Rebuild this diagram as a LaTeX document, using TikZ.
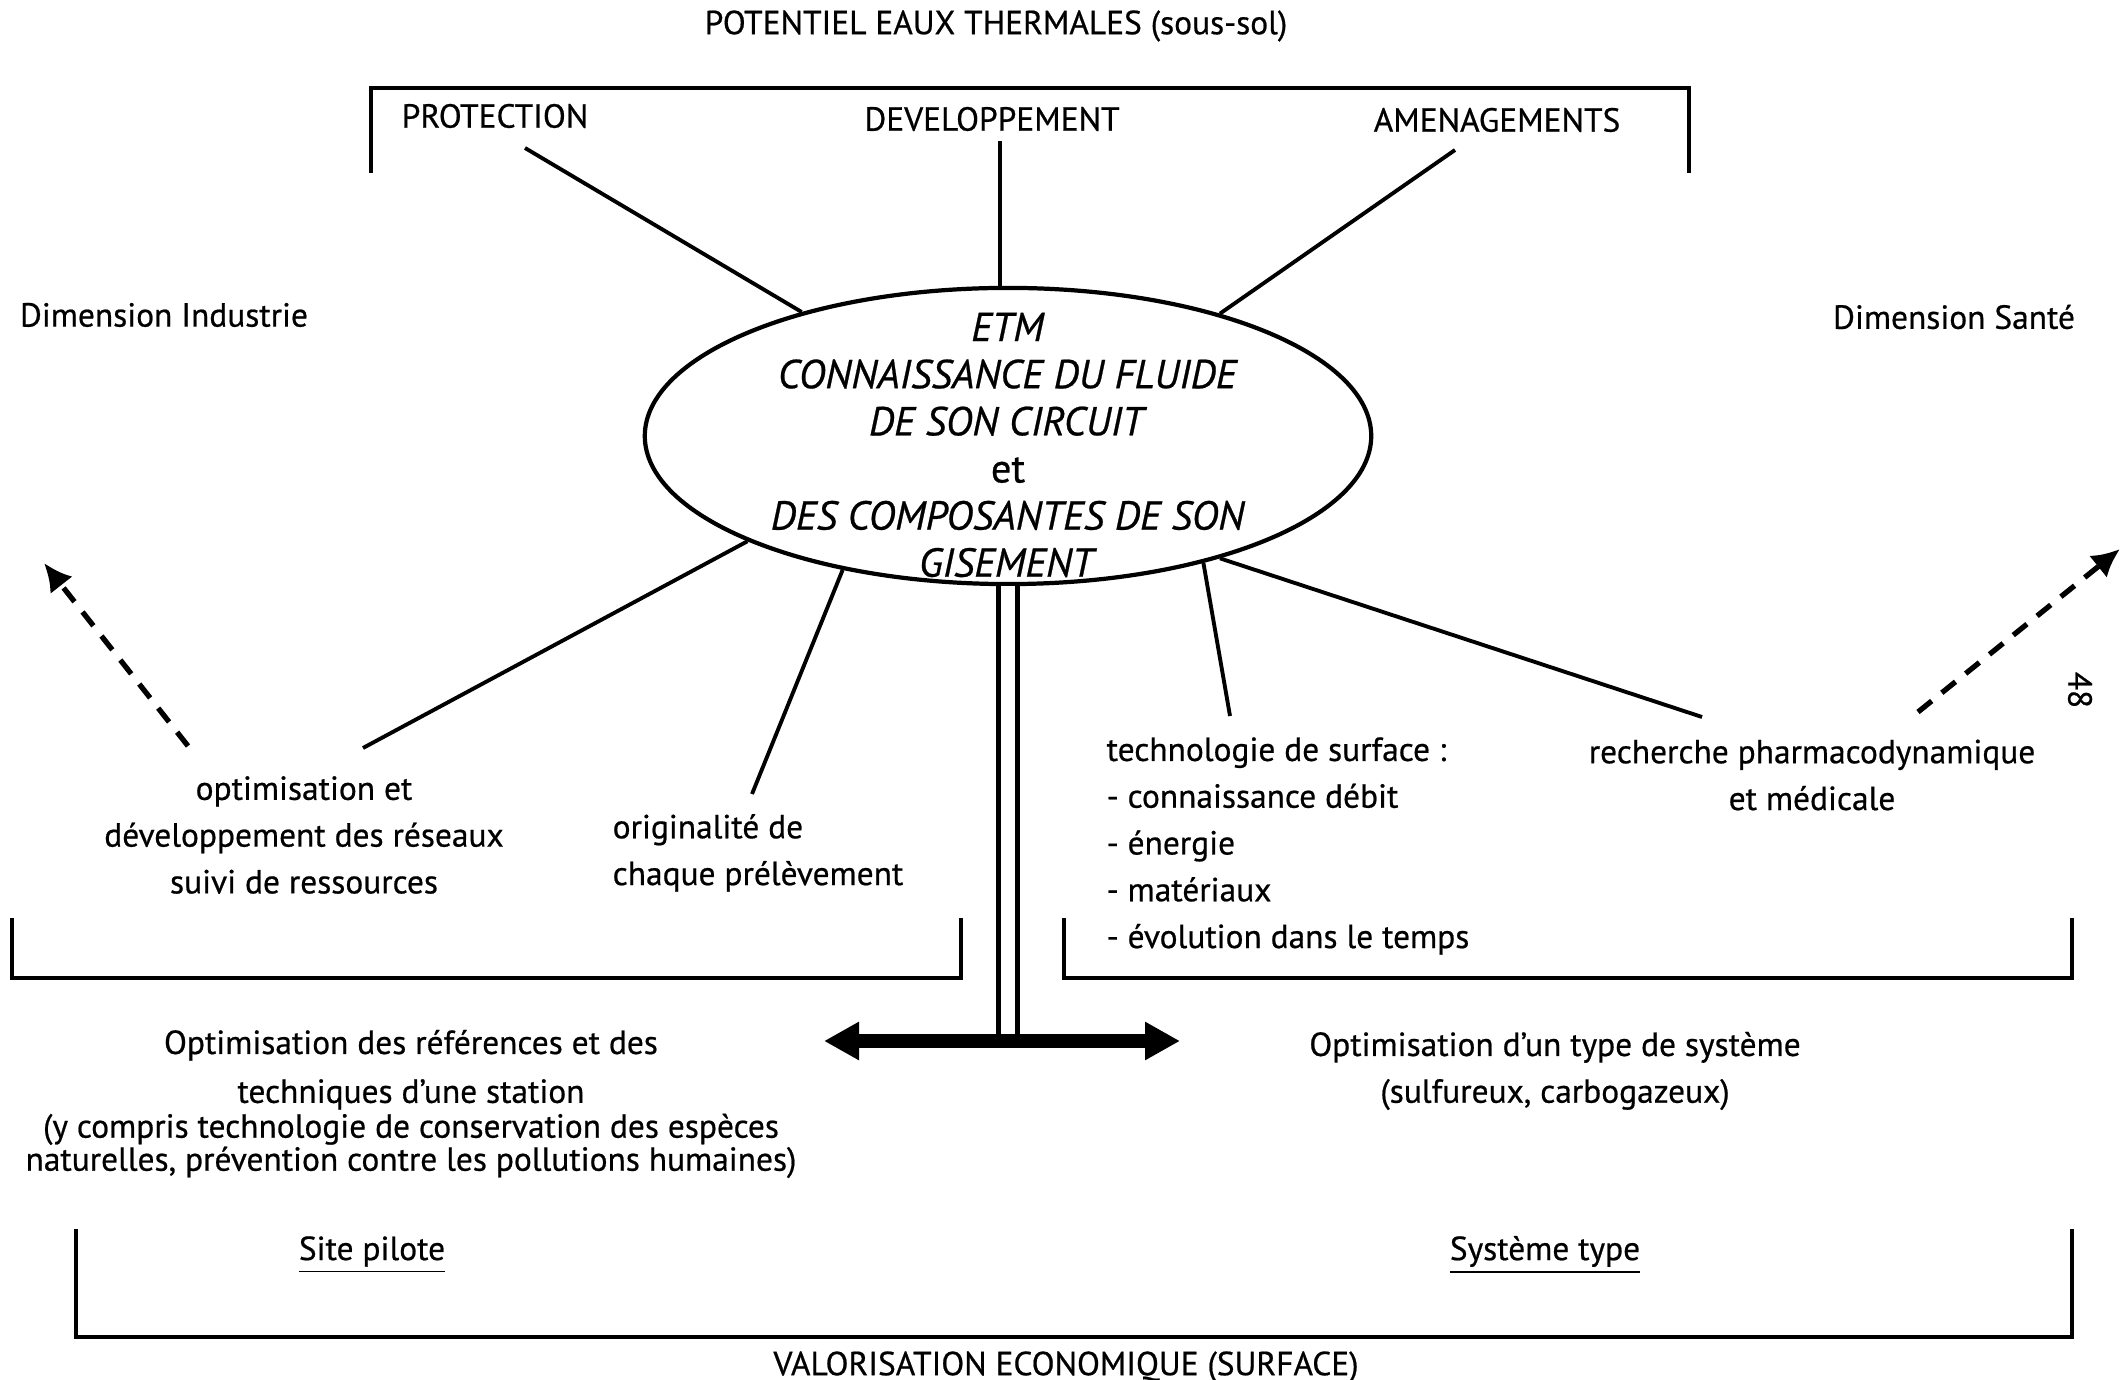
\documentclass[tikz,border=0pt]{standalone}
\usepackage{fontspec}
\setmainfont{PT Sans}[FakeBold=0.6]
\usetikzlibrary{arrows.meta,positioning,shapes.geometric}

\begin{document}
\begin{tikzpicture}[x=0.01cm,y=-0.01cm,
	txt/.style={font=\fontsize{9.5}{13.3}\selectfont,inner sep=0pt},
	bracket/.style={line width=1.1pt},
	spoke/.style={line width=1.1pt},
	dasharrow/.style={line width=1.5pt,dash pattern=on 5pt off 3.7pt,-{Latex[length=2.8mm,width=2.8mm]}}]
	\useasboundingbox (0,0) rectangle (2122,1380);

	% titles and labels
	\begin{scope}[every node/.style={txt}]
		\node (title) at (996,26) {POTENTIEL EAUX THERMALES (sous-sol)};
		\node (prot) at (495,116) {PROTECTION};
		\node (dev) at (992,119) {DEVELOPPEMENT};
		\node (amen) at (1497,120) {AMENAGEMENTS};
		\node (indus) at (164,315) {Dimension Industrie};
		\node (sante) at (1954,317) {Dimension Sant\'e};
		\node[rotate=-90] (page) at (2080,690) {48};

		\node[align=center] (reseaux) at (304,835) {optimisation et\\ d\'eveloppement des r\'eseaux\\ suivi de ressources};
		\node[align=left,anchor=west] (orig) at (612,853) {originalit\'e de\\ chaque pr\'el\`evement};
		\node[align=left,anchor=west] (techno) at (1106,846) {technologie de surface :\\ - connaissance d\'ebit\\ - \'energie\\ - mat\'eriaux\\ - \'evolution dans le temps};
		\node[align=center] (pharma) at (1812,775) {recherche pharmacodynamique\\ et m\'edicale};

		\node[align=center] (station) at (411,1104) {Optimisation des r\'ef\'erences et des\\[0.6pt] techniques d'une station\\[-3.4pt] (y compris technologie de conservation des esp\`eces\\[-3.9pt] naturelles, pr\'evention contre les pollutions humaines)};
		\node[align=center] (systeme) at (1555,1071) {Optimisation d'un type de syst\`eme\\ (sulfureux, carbogazeux)};

		\node (pilote) at (372,1255) {\underline{Site pilote}};
		\node (type) at (1545,1255) {\underline{Syst\`eme type}};
		\node (valo) at (1066,1367) {VALORISATION ECONOMIQUE (SURFACE)};
	\end{scope}

	% central ellipse
	\node[ellipse,draw,line width=1.2pt,minimum width=7.26cm,minimum height=2.96cm,inner sep=0pt] (etm) at (1008,436) {};
	\node[txt,font=\fontsize{11.5}{13.4}\selectfont,align=center] (etmtxt) at (1008,445) {\textit{ETM}\\ \textit{CONNAISSANCE DU FLUIDE}\\ \textit{DE SON CIRCUIT}\\ et\\ \textit{DES COMPOSANTES DE SON}\\ \textit{GISEMENT}};

	% brackets
	\draw[bracket] (371,173) -- (371,88) -- (1689,88) -- (1689,173);
	\draw[bracket] (12,918) -- (12,978) -- (961,978) -- (961,918);
	\draw[bracket] (1064,918) -- (1064,978) -- (2072,978) -- (2072,918);
	\draw[bracket] (76,1229) -- (76,1337) -- (2072,1337) -- (2072,1229);

	% spokes
	\coordinate (p1) at (525,148);
	\coordinate (p2) at (1000,141);
	\coordinate (p3) at (1455,150);
	\coordinate (q1) at (363,748);
	\coordinate (q2) at (752,794);
	\coordinate (q3) at (1230,716);
	\coordinate (q4) at (1702,717);

	\draw[spoke] (p1) -- (etm.149);
	\draw[spoke] (p2) -- (p2 |- etm.north);
	\draw[spoke] (p3) -- (etm.30);
	\draw[spoke] (q1) -- (etm.202);
	\draw[spoke] (q2) -- (etm.219);
	\draw[spoke] (q3) -- (etm.327);
	\draw[spoke] (q4) -- (etm.330);

	% dimension arrows
	\coordinate (indusA) at (188,746);
	\coordinate (indusB) at (44,563);
	\coordinate (santeA) at (1918,712);
	\coordinate (santeB) at (2120,549);
	\draw[dasharrow] (indusA) -- (indusB);
	\draw[dasharrow] (santeA) -- (santeB);

	% link to the valorisation
	\coordinate (arrL) at (824,1041);
	\coordinate (arrR) at (1180,1041);
	\draw[line width=1.2pt,double,double distance=0.148cm] (etm.south) -- (etm.south |- arrL);
	\draw[line width=4.2pt,{Triangle[length=3.5mm,width=3.6mm]}-{Triangle[length=3.5mm,width=3.6mm]}] (arrL) -- (arrR);

\end{tikzpicture}
\end{document}
